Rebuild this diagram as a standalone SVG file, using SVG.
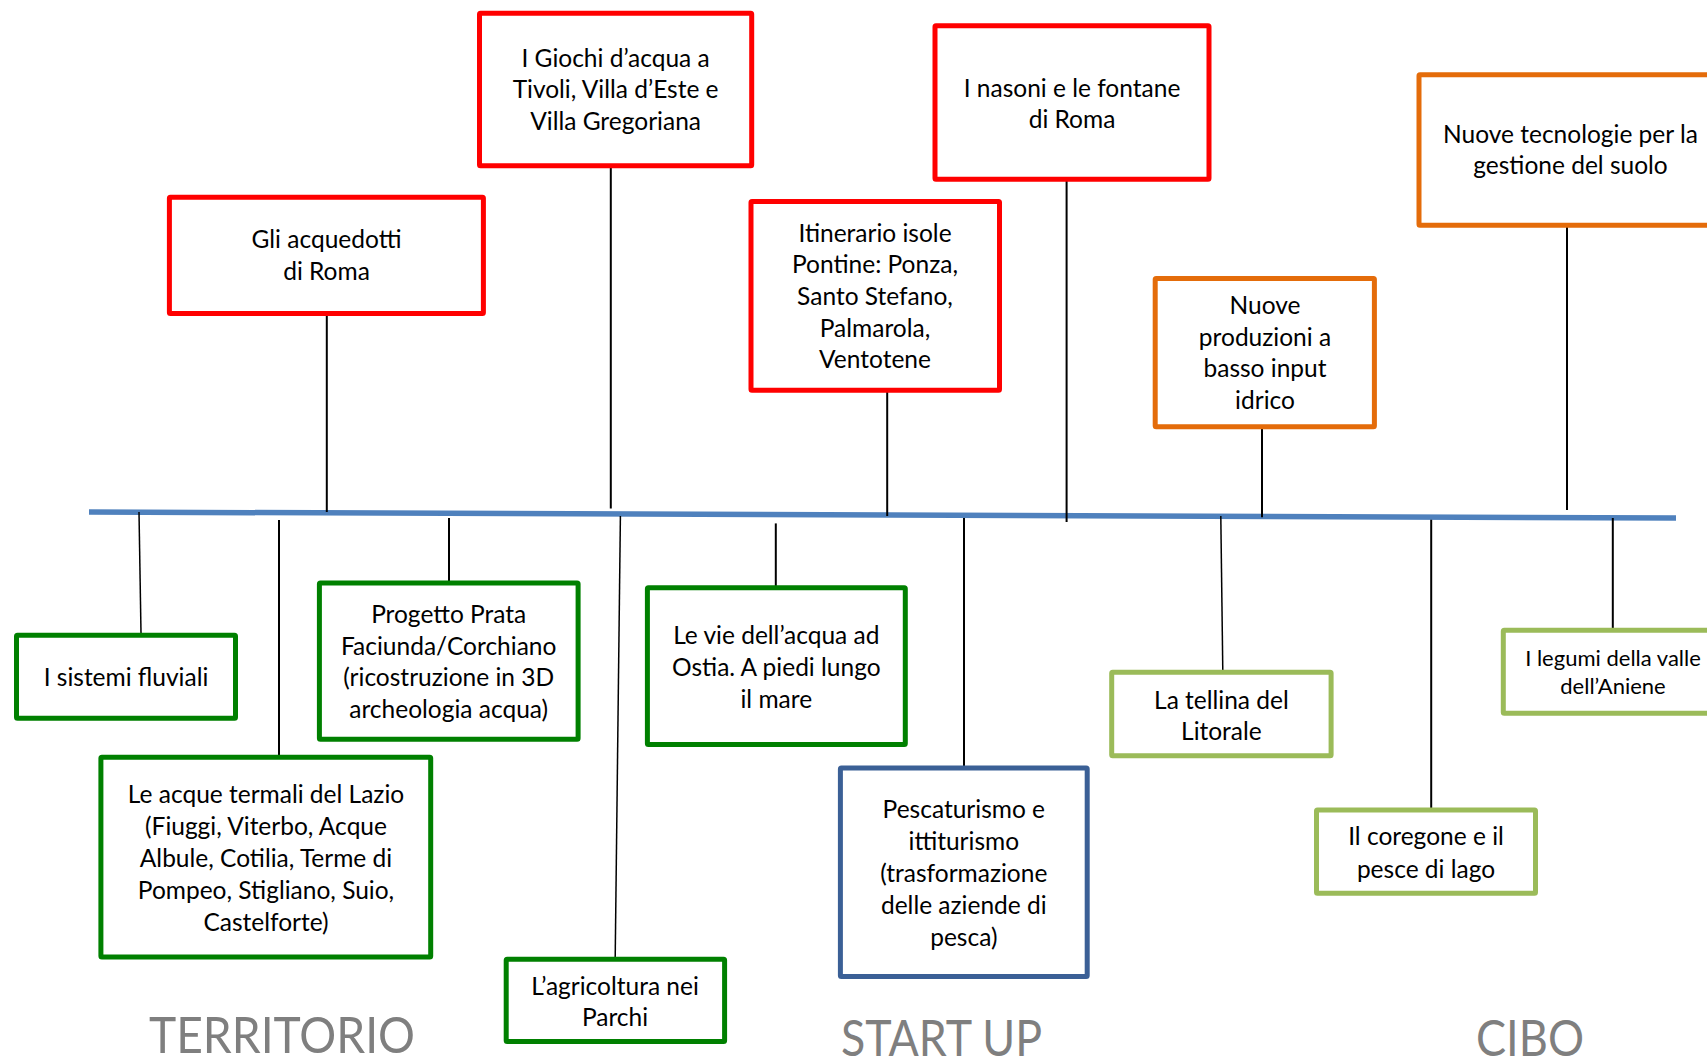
<svg xmlns="http://www.w3.org/2000/svg" width="1707" height="1064" viewBox="0 0 1707 1064">
  <style>
    .box { fill: #FFFFFF; stroke-width: 5; }
    .red { stroke: #FF0000; }
    .orange { stroke: #E46C0A; }
    .green { stroke: #008000; }
    .lgreen { stroke: #9BBB59; }
    .navy { stroke: #3B6096; }
    .t { font-family: Lato, "Liberation Sans", sans-serif; font-size: 24.5px; fill: #000000; text-anchor: middle; }
    .ts { font-size: 22px; }
    .link { stroke: #000000; stroke-width: 2; fill: none; }
    .thin { stroke-width: 1.5; }
    .axis { stroke: #4F81BD; stroke-width: 5.5; fill: none; }
    .cat { font-family: Lato, "Liberation Sans", sans-serif; font-size: 50px; fill: #7F7F7F; }
  </style>

  <rect width="1707" height="1064" fill="#FFFFFF"/>

  <!-- spine and connectors -->
  <g id="connectors">
    <line class="axis" x1="89" y1="512" x2="1676" y2="518"/>
    <line class="link" x1="326.8" y1="316" x2="326.8" y2="512"/>
    <line class="link" x1="610.8" y1="168" x2="610.8" y2="508.5"/>
    <line class="link" x1="1066.6" y1="181" x2="1066.6" y2="522"/>
    <line class="link" x1="887.2" y1="392" x2="887.2" y2="516"/>
    <line class="link" x1="1567" y1="227" x2="1567" y2="510"/>
    <line class="link" x1="1262" y1="429" x2="1262" y2="517.3"/>
    <line class="link thin" x1="139" y1="512" x2="141" y2="633"/>
    <line class="link" x1="279" y1="520" x2="279" y2="756"/>
    <line class="link" x1="449" y1="518" x2="449" y2="582"/>
    <line class="link thin" x1="620.4" y1="516" x2="615.2" y2="957"/>
    <line class="link" x1="775.8" y1="523.4" x2="775.8" y2="586"/>
    <line class="link" x1="964" y1="518" x2="964" y2="767"/>
    <line class="link thin" x1="1220.8" y1="516" x2="1222.8" y2="671"/>
    <line class="link" x1="1431.2" y1="519.8" x2="1431.2" y2="809"/>
    <line class="link" x1="1612.8" y1="518" x2="1612.8" y2="629"/>
  </g>

  <!-- upper nodes -->
  <g id="acquedotti">
    <rect class="box red" x="169.4" y="197.2" width="314" height="116.3" rx="1"/>
    <text class="t" x="326.5" y="248.3">Gli acquedotti</text>
    <text class="t" x="326.5" y="280">di Roma</text>
  </g>
  <g id="giochi">
    <rect class="box red" x="479.5" y="13.2" width="272.2" height="152.6" rx="1"/>
    <text class="t" x="615.6" y="66.7">I Giochi d’acqua a</text>
    <text class="t" x="615.6" y="98.3">Tivoli, Villa d’Este e</text>
    <text class="t" x="615.6" y="130">Villa Gregoriana</text>
  </g>
  <g id="nasoni">
    <rect class="box red" x="935" y="25.8" width="274" height="153.4" rx="1"/>
    <text class="t" x="1072" y="96.7">I nasoni e le fontane</text>
    <text class="t" x="1072" y="128.3">di Roma</text>
  </g>
  <g id="itinerario">
    <rect class="box red" x="751" y="201.5" width="248.5" height="188.7" rx="1"/>
    <text class="t" x="875" y="241.7">Itinerario isole</text>
    <text class="t" x="875" y="273.3">Pontine: Ponza,</text>
    <text class="t" x="875" y="305">Santo Stefano,</text>
    <text class="t" x="875" y="336.7">Palmarola,</text>
    <text class="t" x="875" y="368.3">Ventotene</text>
  </g>
  <g id="tecnologie">
    <rect class="box orange" x="1419" y="74.8" width="330" height="150.5" rx="1"/>
    <text class="t" x="1570.5" y="142.7">Nuove tecnologie per la</text>
    <text class="t" x="1570.5" y="174.3">gestione del suolo</text>
  </g>
  <g id="produzioni">
    <rect class="box orange" x="1155.2" y="278.5" width="219.2" height="148.3" rx="1"/>
    <text class="t" x="1265" y="314">Nuove</text>
    <text class="t" x="1265" y="346">produzioni a</text>
    <text class="t" x="1265" y="377.3">basso input</text>
    <text class="t" x="1265" y="409.3">idrico</text>
  </g>

  <!-- lower nodes -->
  <g id="fluviali">
    <rect class="box green" x="16.5" y="635.2" width="219" height="83" rx="1"/>
    <text class="t" x="126" y="686">I sistemi fluviali</text>
  </g>
  <g id="termali">
    <rect class="box green" x="100.9" y="757.2" width="329.8" height="199.7" rx="1"/>
    <text class="t" x="266" y="803.2">Le acque termali del Lazio</text>
    <text class="t" x="266" y="835.3">(Fiuggi, Viterbo, Acque</text>
    <text class="t" x="266" y="866.9">Albule, Cotilia, Terme di</text>
    <text class="t" x="266" y="899.3">Pompeo, Stigliano, Suio,</text>
    <text class="t" x="266" y="931">Castelforte)</text>
  </g>
  <g id="prata">
    <rect class="box green" x="319.4" y="583.1" width="258.7" height="156.1" rx="1"/>
    <text class="t" x="448.7" y="623">Progetto Prata</text>
    <text class="t" x="448.7" y="654.7">Faciunda/Corchiano</text>
    <text class="t" x="448.7" y="686.3">(ricostruzione in 3D</text>
    <text class="t" x="448.7" y="718.3">archeologia acqua)</text>
  </g>
  <g id="agricoltura">
    <rect class="box green" x="506.2" y="959.3" width="218.4" height="82.1" rx="1"/>
    <text class="t" x="615" y="994.6">L’agricoltura nei</text>
    <text class="t" x="615" y="1025.9">Parchi</text>
  </g>
  <g id="vie">
    <rect class="box green" x="647.4" y="587.8" width="257.9" height="156.8" rx="1"/>
    <text class="t" x="776.3" y="643.9">Le vie dell’acqua ad</text>
    <text class="t" x="776.3" y="676.3">Ostia. A piedi lungo</text>
    <text class="t" x="776.3" y="707.9">il mare</text>
  </g>
  <g id="pescaturismo">
    <rect class="box navy" x="840.4" y="768" width="246.8" height="208.6" rx="1"/>
    <text class="t" x="963.8" y="818.3">Pescaturismo e</text>
    <text class="t" x="963.8" y="850">ittiturismo</text>
    <text class="t" x="963.8" y="882">(trasformazione</text>
    <text class="t" x="963.8" y="913.7">delle aziende di</text>
    <text class="t" x="963.8" y="946">pesca)</text>
  </g>
  <g id="tellina">
    <rect class="box lgreen" x="1111.7" y="672.3" width="219.4" height="83.5" rx="1"/>
    <text class="t" x="1221.4" y="708.6">La tellina del</text>
    <text class="t" x="1221.4" y="740.3">Litorale</text>
  </g>
  <g id="coregone">
    <rect class="box lgreen" x="1316.5" y="810.1" width="219" height="83.1" rx="1"/>
    <text class="t" x="1426" y="845.3">Il coregone e il</text>
    <text class="t" x="1426" y="877.7">pesce di lago</text>
  </g>
  <g id="legumi">
    <rect class="box lgreen" x="1503.3" y="630.2" width="260" height="83.1" rx="1"/>
    <text class="t ts" x="1613" y="665.7">I legumi della valle</text>
    <text class="t ts" x="1613" y="693.5">dell’Aniene</text>
  </g>

  <!-- category labels -->
  <text class="cat" x="149" y="1053" textLength="266" lengthAdjust="spacingAndGlyphs">TERRITORIO</text>
  <text class="cat" x="841" y="1056" textLength="201" lengthAdjust="spacingAndGlyphs">START UP</text>
  <text class="cat" x="1476" y="1056" textLength="108" lengthAdjust="spacingAndGlyphs">CIBO</text>
</svg>
